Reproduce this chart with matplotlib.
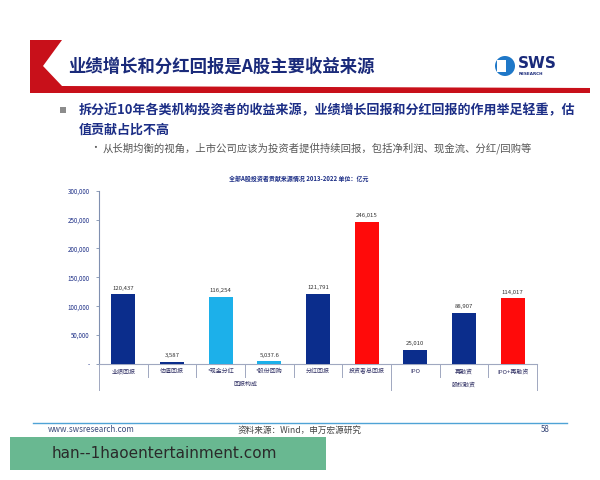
import matplotlib
matplotlib.use("Agg")
import matplotlib.pyplot as plt
from matplotlib.patches import Polygon, Rectangle, Circle

plt.rcParams['font.family'] = ['Noto Sans CJK SC', 'DejaVu Sans']

# ---------------- data ----------------
categories = ["业绩回报", "估值回报", "*现金分红", "*股份回购", "分红回报", "投资者总回报",
              "IPO", "再融资", "IPO+再融资"]
values = [120437, 3587, 116254, 5037.6, 121791, 246015, 25010, 88907, 114017]
value_labels = ["120,437", "3,587", "116,254", "5,037.6", "121,791", "246,015",
                "25,010", "88,907", "114,017"]
groups = ["回报构成", "股权融资"]
group_sizes = [6, 3]
yticks = [0, 50000, 100000, 150000, 200000, 250000, 300000]
ytick_labels = ["-", "50,000", "100,000", "150,000", "200,000", "250,000", "300,000"]
chart_title = "全部A股投资者贡献来源情况 2013-2022 单位：亿元"

NAVY = "#0B2D8C"
LIGHT = "#1CB0EA"
RED = "#FF0A0A"
bar_colors = [NAVY, NAVY, LIGHT, LIGHT, NAVY, RED, NAVY, NAVY, RED]

W, H = 600, 480
fig = plt.figure(figsize=(6, 4.8), dpi=100)
fig.patch.set_facecolor("white")

# ---------------- slide decorations (pixel overlay) ----------------
bg = fig.add_axes([0, 0, 1, 1])
bg.set_xlim(0, W)
bg.set_ylim(H, 0)
bg.axis("off")

# red header shape
bg.add_patch(Polygon([(30, 40), (62, 40), (43, 66), (62, 86), (590, 88), (590, 93), (30, 93)],
                     closed=True, facecolor="#C8101A", edgecolor="none"))
bg.text(68, 67, "业绩增长和分红回报是A股主要收益来源", fontsize=12.5, fontweight="bold",
        color="#1A2A7A", va="center", ha="left")

# SWS logo
bg.add_patch(Circle((505, 66), 10, facecolor="#1F78C8", edgecolor="none"))
bg.add_patch(Rectangle((497, 60), 9, 12, facecolor="white", edgecolor="none"))
bg.text(518, 63, "SWS", fontsize=11, fontweight="bold", color="#1A2A7A",
        va="center", ha="left", family=["DejaVu Sans"])
bg.text(519, 74, "RESEARCH", fontsize=3, fontweight="bold", color="#1A2A7A",
        va="center", ha="left", family=["DejaVu Sans"])

# bullets
bg.add_patch(Rectangle((60, 107), 6, 6, facecolor="#8C8C8C", edgecolor="none"))
bg.text(79, 110, "拆分近10年各类机构投资者的收益来源，业绩增长回报和分红回报的作用举足轻重，估",
        fontsize=9.35, fontweight="bold", color="#1C2E86", va="center", ha="left")
bg.text(79, 130, "值贡献占比不高", fontsize=9.35, fontweight="bold", color="#1C2E86",
        va="center", ha="left")
bg.text(90, 148, "•", fontsize=7, color="#555555", va="center", ha="left")
bg.text(103, 148, "从长期均衡的视角，上市公司应该为投资者提供持续回报，包括净利润、现金流、分红/回购等",
        fontsize=7.45, color="#555555", va="center", ha="left")

# chart title
bg.text(299, 178, chart_title, fontsize=4.3, fontweight="bold", color="#1C2E86",
        va="center", ha="center")

# footer
bg.plot([33, 567], [423, 423], color="#4FA3D6", lw=1.0)
bg.text(48, 430, "www.swsresearch.com", fontsize=5.8, color="#3A4A7A", va="center", ha="left")
bg.text(300, 430, "资料来源：Wind，申万宏源研究", fontsize=6.2, color="#444444",
        va="center", ha="center")
bg.text(545, 430, "58", fontsize=5.8, color="#3A4A7A", va="center", ha="center")
bg.add_patch(Rectangle((10, 437), 316, 33, facecolor="#69B891", edgecolor="none"))
bg.text(52, 453, "han--1haoentertainment.com", fontsize=11, color="#2A2A2A",
        va="center", ha="left", family=["DejaVu Sans"])

# ---------------- chart ----------------
x0, x1, ytop, ybot = 99, 537, 190.7, 364
ax = fig.add_axes([x0 / W, 1 - ybot / H, (x1 - x0) / W, (ybot - ytop) / H])
ax.set_facecolor("none")
xs = list(range(len(categories)))
bars = ax.bar(xs, values, width=0.49, color=bar_colors, zorder=3)
for b, lab in zip(bars, value_labels):
    ax.text(b.get_x() + b.get_width() / 2, b.get_height() + 6000, lab, fontsize=4.3,
            color="#333333", ha="center", va="bottom")

ax.set_xlim(-0.5, len(categories) - 0.5)
ax.set_ylim(0, 300000)
ax.set_yticks(yticks)
ax.set_yticklabels(ytick_labels, fontsize=4.5, color="#1C2E86")
ax.tick_params(axis="y", length=2.5, width=0.6, color="#8090B0", pad=4)
ax.set_xticks([])
for s in ["top", "right"]:
    ax.spines[s].set_visible(False)
ax.spines["left"].set_color("#8090B0")
ax.spines["left"].set_linewidth(0.8)
ax.spines["bottom"].set_color("#A0A8C0")
ax.spines["bottom"].set_linewidth(0.8)

trans = ax.get_xaxis_transform()
ph = ybot - ytop
short = -13 / ph
longd = -26 / ph
bounds = []
pos = -0.5
for g in group_sizes:
    bounds.append(pos)
    pos += g
bounds.append(pos)
for i in range(len(categories) + 1):
    xb = i - 0.5
    depth = longd if xb in bounds else short
    ax.plot([xb, xb], [0, depth], transform=trans, color="#A0A8C0", lw=0.7, clip_on=False)
for i, c in enumerate(categories):
    ax.text(i, -7.5 / ph, c, transform=trans, fontsize=4.3, color="#333366",
            ha="center", va="center")
start = 0
for g, n in zip(groups, group_sizes):
    cx = start + (n - 1) / 2
    ax.text(cx, -20.5 / ph, g, transform=trans, fontsize=4.3, color="#333366",
            ha="center", va="center")
    start += n

fig.savefig("out.png", dpi=100, facecolor="white")
